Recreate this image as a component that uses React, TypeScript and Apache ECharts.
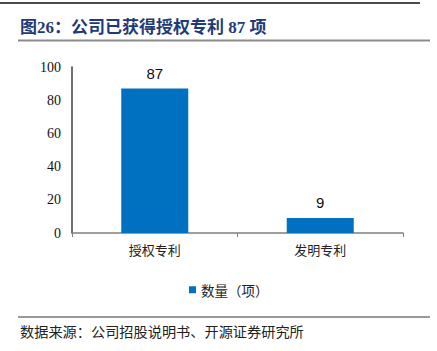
import React, { useEffect, useRef } from "react";
import * as echarts from "echarts";

const categories = ["授权专利", "发明专利"];
const values = [87, 9];
const seriesName = "数量（项）";
const titleText = "图26：公司已获得授权专利 87 项";
const sourceText = "数据来源：公司招股说明书、开源证券研究所";

export default function App() {
  const ref = useRef<HTMLDivElement>(null);
  useEffect(() => {
    if (!ref.current) return;
    const chart = echarts.init(ref.current, null, { renderer: "svg" });
    chart.setOption({
      animation: false,
      backgroundColor: "#ffffff",
      grid: { left: 72, right: 34, top: 67, bottom: 118, containLabel: false },
      legend: {
        data: [seriesName],
        top: 278,
        left: 184,
        icon: "rect",
        itemWidth: 7,
        itemHeight: 7,
        itemGap: 4,
        textStyle: { fontSize: 13.5, color: "#222", fontFamily: "Noto Sans CJK SC" },
      },
      xAxis: {
        type: "category",
        data: categories,
        axisLine: { show: true, lineStyle: { color: "#7f7f7f", width: 1.5 } },
        axisTick: { show: true, length: 4, lineStyle: { color: "#7f7f7f" } },
        axisLabel: { fontSize: 13, color: "#222", margin: 10, fontFamily: "Noto Sans CJK SC" },
      },
      yAxis: {
        type: "value",
        min: 0,
        max: 100,
        interval: 20,
        axisLine: { show: true, lineStyle: { color: "#404040", width: 1.5 } },
        axisTick: { show: false },
        splitLine: { show: false },
        axisLabel: { fontSize: 14, color: "#111", margin: 11, fontFamily: "Liberation Serif" },
      },
      series: [
        {
          name: seriesName,
          type: "bar",
          data: values,
          barWidth: 67,
          itemStyle: { color: "#0070C0" },
          label: {
            show: true,
            position: "top",
            distance: 8,
            fontSize: 15,
            color: "#111",
            fontFamily: "Liberation Sans",
          },
        },
      ],
      graphic: [
        { type: "line", shape: { x1: 0, y1: 3, x2: 420, y2: 3 }, style: { stroke: "#111", lineWidth: 1.5 } },
        {
          type: "text",
          x: 20,
          y: 27,
          style: {
            text: titleText,
            fontSize: 17,
            fontWeight: "bold",
            fill: "#1F3A78",
            fontFamily: "Liberation Serif, Noto Sans CJK SC",
            textVerticalAlign: "middle",
          },
        },
        { type: "line", shape: { x1: 18, y1: 40.5, x2: 430, y2: 40.5 }, style: { stroke: "#8c8c8c", lineWidth: 2 } },
        { type: "line", shape: { x1: 18, y1: 317, x2: 430, y2: 317 }, style: { stroke: "#333", lineWidth: 1 } },
        {
          type: "text",
          x: 20,
          y: 331,
          style: {
            text: sourceText,
            fontSize: 14.2,
            fill: "#222",
            fontFamily: "Noto Sans CJK SC",
            textVerticalAlign: "middle",
          },
        },
      ],
    });
    return () => chart.dispose();
  }, []);
  return (
    <div
      ref={ref}
      style={{ position: "fixed", left: 0, top: 0, width: 437, height: 351, background: "#fff" }}
    />
  );
}
